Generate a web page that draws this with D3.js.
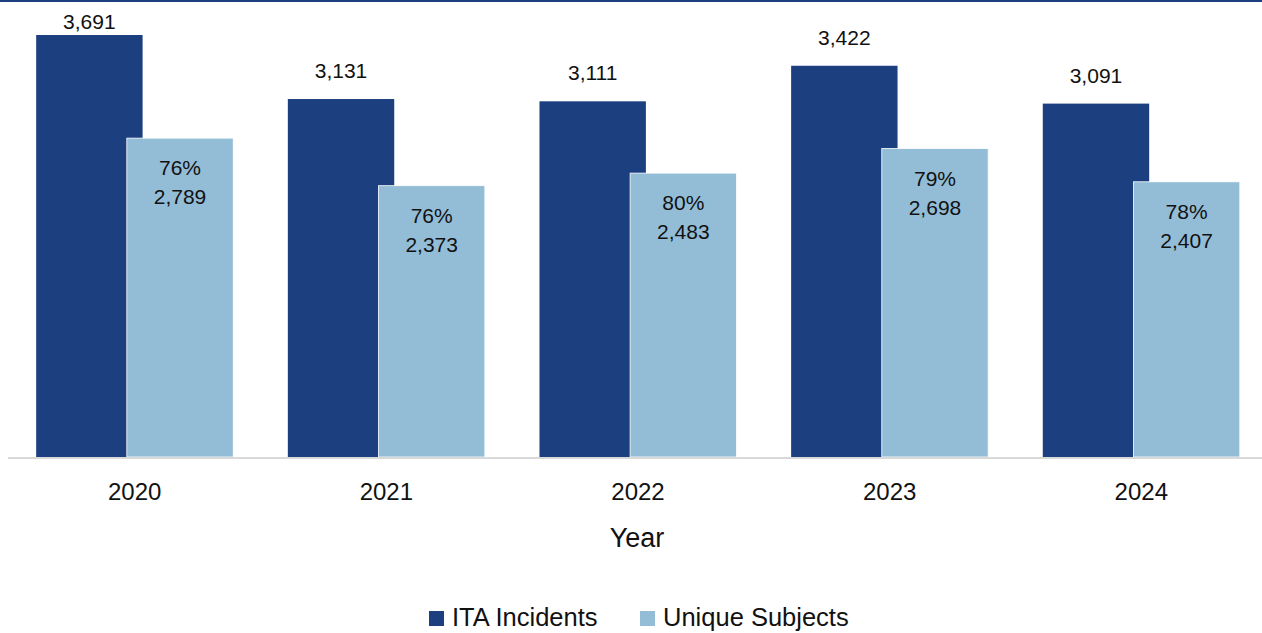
<!DOCTYPE html>
<html>
<head>
<meta charset="utf-8">
<script src="https://cdn.jsdelivr.net/npm/d3@7"></script>
<style>
  body { margin: 0; background: #fff; }
  svg { display: block; font-family: "Liberation Sans", Arial, sans-serif; }
</style>
</head>
<body>
<svg id="chart" width="1262" height="633"></svg>
<script>
const years = ['2020', '2021', '2022', '2023', '2024'];
const incidents = [3691, 3131, 3111, 3422, 3091];
const subjects = [2789, 2373, 2483, 2698, 2407];
const shares = ['76%', '76%', '80%', '79%', '78%'];
const seriesNames = ['ITA Incidents', 'Unique Subjects'];
const colors = ['#1c3f80', '#93bdd7'];

const svg = d3.select('svg#chart');
const baseY = 457;

// top rule
svg.append('rect').attr('x', 0).attr('y', 0).attr('width', 1262).attr('height', 2).attr('fill', '#1c3f80');

const x0 = d3.scaleBand().domain(years).range([9, 1267]).paddingInner(0.217).paddingOuter(0.108);
const y = d3.scaleLinear().domain([0, 3691]).range([baseY, 35]);
const barW = x0.bandwidth() * 0.54;
const fmt = d3.format(',');

const g = svg.append('g');

years.forEach((yr, i) => {
  const gx = x0(yr);
  // dark bar
  g.append('rect')
    .attr('x', gx).attr('y', y(incidents[i]))
    .attr('width', barW).attr('height', baseY - y(incidents[i]))
    .attr('fill', colors[0]);
  g.append('text')
    .attr('x', gx + barW / 2).attr('y', Math.max(y(incidents[i]) - 21, 29))
    .attr('text-anchor', 'middle').attr('font-size', 21).attr('fill', '#111')
    .text(fmt(incidents[i]));
  // light bar overlapping
  const lx = gx + x0.bandwidth() - barW;
  g.append('rect')
    .attr('x', lx).attr('y', y(subjects[i]))
    .attr('width', barW).attr('height', baseY - y(subjects[i]))
    .attr('fill', colors[1]).attr('stroke', '#fff').attr('stroke-width', 0.8);
  g.append('text')
    .attr('x', lx + barW / 2).attr('y', y(subjects[i]) + 37)
    .attr('text-anchor', 'middle').attr('font-size', 21).attr('fill', '#111')
    .text(shares[i]);
  g.append('text')
    .attr('x', lx + barW / 2).attr('y', y(subjects[i]) + 66)
    .attr('text-anchor', 'middle').attr('font-size', 21).attr('fill', '#111')
    .text(fmt(subjects[i]));
});

// baseline
svg.append('line')
  .attr('x1', 8).attr('x2', 1262).attr('y1', baseY + 1).attr('y2', baseY + 1)
  .attr('stroke', '#d9d9d9').attr('stroke-width', 2);

// x axis labels
const xAxis = svg.append('g').attr('transform', `translate(0,${baseY + 2})`)
  .call(d3.axisBottom(x0).tickSize(0).tickPadding(0));
xAxis.select('.domain').remove();
xAxis.selectAll('text').attr('font-size', 24).attr('fill', '#111').attr('dy', null).attr('y', 41)
  .attr('font-family', '"Liberation Sans", Arial, sans-serif');

svg.append('text').attr('x', 637).attr('y', 547).attr('text-anchor', 'middle')
  .attr('font-size', 27).attr('fill', '#111').text('Year');

// legend
const legend = svg.append('g');
const legendX = [429, 640];
seriesNames.forEach((name, i) => {
  legend.append('rect').attr('x', legendX[i]).attr('y', 611).attr('width', 15).attr('height', 15).attr('fill', colors[i]);
  legend.append('text').attr('x', legendX[i] + 23).attr('y', 626)
    .attr('font-size', 25.5).attr('fill', '#111').text(name);
});
</script>
</body>
</html>
